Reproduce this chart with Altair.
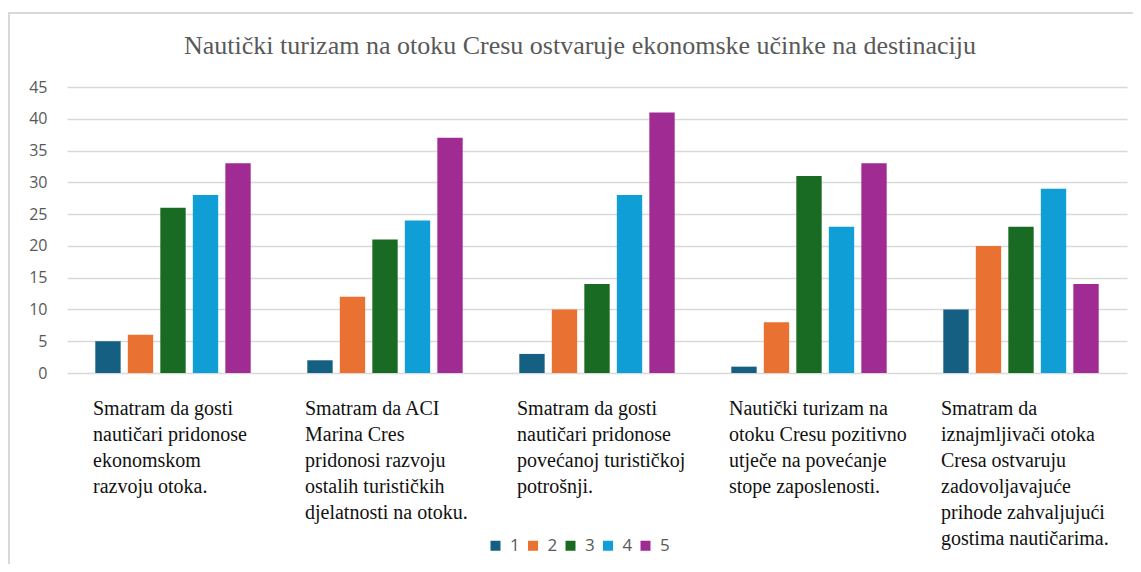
import altair as alt
import pandas as pd

title_text = "Nautički turizam na otoku Cresu ostvaruje ekonomske učinke na destinaciju"
categories = [
    "Smatram da gosti\nnautičari pridonose\nekonomskom\nrazvoju otoka.",
    "Smatram da ACI\nMarina Cres\npridonosi razvoju\nostalih turističkih\ndjelatnosti na otoku.",
    "Smatram da gosti\nnautičari pridonose\npovećanoj turističkoj\npotrošnji.",
    "Nautički turizam na\notoku Cresu pozitivno\nutječe na povećanje\nstope zaposlenosti.",
    "Smatram da\niznajmljivači otoka\nCresa ostvaruju\nzadovoljavajuće\nprihode zahvaljujući\ngostima nautičarima.",
]
levels = ["1", "2", "3", "4", "5"]
colors = ["#156082", "#E97132", "#196B24", "#0F9ED5", "#A02B93"]
s1 = [5, 2, 3, 1, 10]
s2 = [6, 12, 10, 8, 20]
s3 = [26, 21, 14, 31, 23]
s4 = [28, 24, 28, 23, 29]
s5 = [33, 37, 41, 33, 14]
series = [s1, s2, s3, s4, s5]
y_ticks = [0, 5, 10, 15, 20, 25, 30, 35, 40, 45]

rows = []
for lv, vals in zip(levels, series):
    for c, v in zip(categories, vals):
        rows.append({"cat": c, "level": lv, "value": v})
df = pd.DataFrame(rows)
lbl_df = pd.DataFrame({"cat": categories})
one = pd.DataFrame({"t": [title_text]})

xscale = alt.Scale(paddingInner=0.267, paddingOuter=0.1335)

bars = alt.Chart(df).mark_bar().encode(
    x=alt.X("cat:N", sort=categories, scale=xscale, axis=None),
    xOffset=alt.XOffset("level:N", sort=levels, scale=alt.Scale(paddingInner=0.22, paddingOuter=0)),
    y=alt.Y("value:Q", scale=alt.Scale(domain=[0, 45], nice=False),
            axis=alt.Axis(values=y_ticks, title=None, grid=True, gridColor="#d9d9d9", gridWidth=1.5,
                          domain=False, ticks=False, labelPadding=20, labelFont="Open Sans",
                          labelFontSize=16, labelColor="#595959")),
    color=alt.Color("level:N", sort=levels, scale=alt.Scale(domain=levels, range=colors),
                    legend=alt.Legend(orient="none", legendX=420, legendY=450, direction="horizontal",
                                      title=None, symbolType="square", symbolSize=100,
                                      symbolStrokeWidth=0, labelFont="Open Sans", labelFontSize=17,
                                      labelColor="#595959", columnPadding=4.5, labelOffset=6,
                                      padding=0)),
)

labels = alt.Chart(lbl_df).mark_text(
    align="left", baseline="alphabetic", dx=-80, lineBreak="\n", lineHeight=26,
    font="Liberation Serif", fontSize=20, color="#111111"
).encode(
    x=alt.X("cat:N", sort=categories, scale=xscale, axis=None),
    y=alt.value(328),
    text="cat:N",
)

title = alt.Chart(one).mark_text(
    align="center", baseline="middle", font="Liberation Serif", fontSize=26, color="#595959"
).encode(x=alt.value(513), y=alt.value(-41), text="t:N")

frame_left = alt.Chart(one).mark_rule(color="#d9d9d9", strokeWidth=2).encode(
    x=alt.value(-58), y=alt.value(-74), y2=alt.value(480))
frame_top = alt.Chart(one).mark_rule(color="#d9d9d9", strokeWidth=2).encode(
    x=alt.value(-59), x2=alt.value(1070), y=alt.value(-74))

chart = alt.layer(frame_left, frame_top, bars, labels, title).properties(
    width=1060, height=286,
    padding={"left": 59, "top": 79, "right": 6, "bottom": 191},
    autosize=alt.AutoSizeParams(type="none"),
).configure_view(stroke=None)

chart.save("out.html", embed_options={"renderer": "svg", "actions": False})
